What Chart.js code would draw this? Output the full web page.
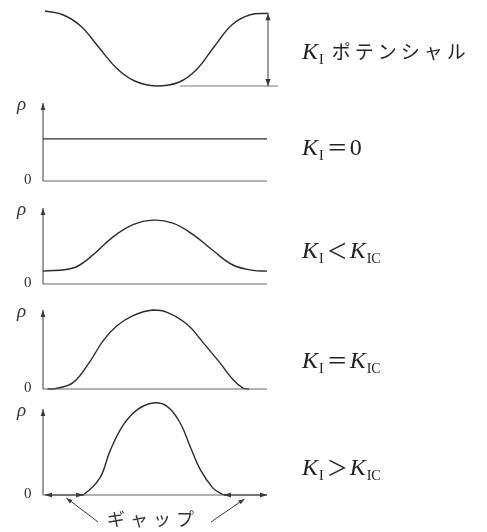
<!DOCTYPE html>
<html lang="ja">
<head>
<meta charset="utf-8">
<script src="https://cdn.jsdelivr.net/npm/chart.js@4.4.1/dist/chart.umd.min.js"></script>
<style>
  body { margin: 0; background: #fff; }
  #lienzo { position: relative; width: 487px; height: 532px; overflow: hidden; background: #fff; }
  #lienzo canvas { position: absolute; left: 0; top: 0; }
  .rotulo { position: absolute; left: 302px; height: 28px; line-height: 28px; white-space: nowrap; color: #222;
            font-family: "Liberation Serif", "DejaVu Serif", serif; font-size: 24px; }
  .rotulo i { font-style: italic; }
  .rotulo .sub { font-size: 14px; position: relative; top: 5px; margin-left: 1px; }
  .rotulo .jp { font-family: "Noto Sans CJK JP", sans-serif; font-size: 19px; letter-spacing: 4px; margin-left: 8px; }
  .rotulo .sim { font-family: "Noto Sans CJK JP", sans-serif; font-size: 21px; margin: 0 2px 0 3px; }
  .eixo { position: absolute; color: #333; font-family: "Liberation Serif", "DejaVu Serif", serif; }
  .rho { font-style: italic; font-size: 19px; }
  .zero { font-size: 15px; }
  #gap { position: absolute; left: 107px; top: 505px; font-family: "Noto Sans CJK JP", sans-serif;
         font-size: 18px; letter-spacing: 5px; color: #333; }
</style>
</head>
<body>
<div id="lienzo">
  <canvas id="p1" width="487" height="532"></canvas>
  <canvas id="p2" width="487" height="532"></canvas>
  <canvas id="p3" width="487" height="532"></canvas>
  <canvas id="p4" width="487" height="532"></canvas>
  <canvas id="p5" width="487" height="532"></canvas>

  <div class="rotulo" style="top:37px"><i>K</i><span class="sub">I</span><span class="jp">ポテンシャル</span></div>
  <div class="rotulo" style="top:132px"><i>K</i><span class="sub">I</span><span class="sim">＝</span>0</div>
  <div class="rotulo" style="top:235px"><i>K</i><span class="sub">I</span><span class="sim">＜</span><i>K</i><span class="sub">IC</span></div>
  <div class="rotulo" style="top:345px"><i>K</i><span class="sub">I</span><span class="sim">＝</span><i>K</i><span class="sub">IC</span></div>
  <div class="rotulo" style="top:452px"><i>K</i><span class="sub">I</span><span class="sim">＞</span><i>K</i><span class="sub">IC</span></div>
  <div id="gap">ギャップ</div>
</div>

<script>
// curvas (x: 0..100 ao longo do eixo, y: 0 = linha base, 1 = ponta da seta)
const potencialX = [0, 8, 16, 24, 32, 40, 50, 60, 68, 76, 84, 92, 100];
const potencialY = [1.0, 0.95, 0.80, 0.52, 0.24, 0.07, 0, 0.05, 0.22, 0.53, 0.82, 0.95, 0.97];

const zeroX = [0, 100];
const zeroY = [0.54, 0.54];

const menorX = [0, 13.4, 21, 31.3, 40.2, 49.1, 58, 67, 75.9, 84.8, 93.8, 100];
const menorY = [0.17, 0.21, 0.35, 0.62, 0.78, 0.84, 0.80, 0.65, 0.44, 0.25, 0.18, 0.17];

const igualX = [2, 4.5, 13.4, 21, 26.8, 33, 40.2, 49.1, 55.4, 64.3, 71.4, 79, 84.8, 89.3, 92];
const igualY = [0, 0, 0.08, 0.35, 0.61, 0.80, 0.93, 1.0, 0.97, 0.82, 0.59, 0.33, 0.12, 0.01, 0];

const maiorX = [15, 17.9, 25.4, 29.9, 35.7, 42, 49.1, 55.4, 61.2, 65.6, 70.1, 75.9, 79.9, 82];
const maiorY = [0, 0, 0.2, 0.51, 0.81, 0.99, 1.07, 1.03, 0.84, 0.57, 0.30, 0.08, 0.01, 0];

// trechos de "gap" na linha base do último painel
const gapEsquerda = [0, 17.9];
const gapDireita = [79.9, 100];

// linha de referência do mínimo do potencial
const baseInicio = 60.5;
const baseFim = 104.5;

const eixoRotulos = ['ρ', '0'];

const cor = '#2b2b2b';

function linha(ctx, x1, y1, x2, y2) {
    ctx.beginPath();
    ctx.moveTo(x1, y1);
    ctx.lineTo(x2, y2);
    ctx.stroke();
}

function ponta(ctx, x1, y1, x2, y2, tam = 7, larg = 2.6) {
    const a = Math.atan2(y2 - y1, x2 - x1);
    ctx.beginPath();
    ctx.moveTo(x2, y2);
    ctx.lineTo(x2 - tam * Math.cos(a) + larg * Math.sin(a), y2 - tam * Math.sin(a) - larg * Math.cos(a));
    ctx.lineTo(x2 - tam * Math.cos(a) - larg * Math.sin(a), y2 - tam * Math.sin(a) + larg * Math.cos(a));
    ctx.closePath();
    ctx.fill();
}

function setaDupla(ctx, x1, y1, x2, y2) {
    linha(ctx, x1, y1, x2, y2);
    ponta(ctx, x1, y1, x2, y2);
    ponta(ctx, x2, y2, x1, y1);
}

const desenhos = {
    id: 'desenhos',
    afterDatasetsDraw(chart, args, opts) {
        const ctx = chart.ctx;
        const px = v => chart.scales.x.getPixelForValue(v);
        const py = v => chart.scales.y.getPixelForValue(v);
        ctx.save();
        ctx.strokeStyle = '#3a3a3a';
        ctx.fillStyle = '#3a3a3a';
        ctx.lineWidth = 1;

        if (opts.tipo === 'potencial') {
            ctx.strokeStyle = '#777';
            linha(ctx, px(baseInicio), py(0), px(baseFim), py(0));
            ctx.strokeStyle = '#3a3a3a';
            setaDupla(ctx, px(100), py(potencialY[potencialY.length - 1]), px(100), py(0));
        } else {
            linha(ctx, px(0), py(0), px(0), py(1));
            ponta(ctx, px(0), py(0), px(0), py(1), 7, 2.4);
            ctx.strokeStyle = '#666';
            linha(ctx, px(0), py(0), px(100), py(0));
            ctx.strokeStyle = '#3a3a3a';

            if (opts.gaps) {
                [gapEsquerda, gapDireita].forEach(g => {
                    setaDupla(ctx, px(g[0]) + 2, py(0), px(g[1]), py(0));
                });
                // linhas de chamada até o texto
                const gapEl = document.getElementById('gap');
                const txtY = gapEl.offsetTop + 17;
                const txtL = gapEl.offsetLeft - 9;
                const txtR = gapEl.offsetLeft + gapEl.offsetWidth + 12;
                const mE = px((gapEsquerda[0] + gapEsquerda[1]) / 2 + 1.5);
                const mD = px((gapDireita[0] + gapDireita[1]) / 2);
                linha(ctx, txtL, txtY, mE, py(0) + 3);
                ponta(ctx, txtL, txtY, mE, py(0) + 3, 6, 2.2);
                linha(ctx, txtR, txtY, mD, py(0) + 4);
                ponta(ctx, txtR, txtY, mD, py(0) + 4, 6, 2.2);
            }
        }
        ctx.restore();
    }
};

const paineis = [
    { id: 'p1', xs: potencialX, ys: potencialY, left: 45, right: 268, top: 11, zero: 86, tipo: 'potencial' },
    { id: 'p2', xs: zeroX, ys: zeroY, left: 43, right: 267, top: 103, zero: 181, tipo: 'rho' },
    { id: 'p3', xs: menorX, ys: menorY, left: 43, right: 267, top: 208, zero: 284, tipo: 'rho' },
    { id: 'p4', xs: igualX, ys: igualY, left: 43, right: 267, top: 310, zero: 389, tipo: 'rho' },
    { id: 'p5', xs: maiorX, ys: maiorY, left: 43, right: 267, top: 409, zero: 495, tipo: 'rho', gaps: true }
];

function criarPainel(p) {
    const canvas = document.getElementById(p.id);
    return new Chart(canvas, {
        type: 'line',
        data: {
            datasets: [{
                data: p.xs.map((x, i) => ({ x: x, y: p.ys[i] })),
                borderColor: cor,
                borderWidth: 1.4,
                pointRadius: 0,
                fill: false,
                clip: false,
                tension: 0.4
            }]
        },
        options: {
            responsive: false,
            animation: false,
            events: [],
            layout: { padding: { left: p.left, right: 487 - p.right, top: p.top, bottom: 532 - p.zero } },
            scales: {
                x: { type: 'linear', display: false, min: 0, max: 100 },
                y: { display: false, min: 0, max: 1 }
            },
            plugins: {
                legend: { display: false },
                tooltip: { enabled: false },
                desenhos: { tipo: p.tipo, gaps: !!p.gaps }
            }
        },
        plugins: [desenhos]
    });
}

function rotulosEixo(p) {
    const lienzo = document.getElementById('lienzo');
    const rho = document.createElement('div');
    rho.className = 'eixo rho';
    rho.textContent = eixoRotulos[0];
    rho.style.left = '17px';
    rho.style.top = (p.top - 10) + 'px';
    lienzo.appendChild(rho);

    const zero = document.createElement('div');
    zero.className = 'eixo zero';
    zero.textContent = eixoRotulos[1];
    zero.style.left = '24px';
    zero.style.top = (p.zero - 10) + 'px';
    lienzo.appendChild(zero);
}

paineis.forEach(p => {
    criarPainel(p);
    if (p.tipo === 'rho') rotulosEixo(p);
});
</script>
</body>
</html>
